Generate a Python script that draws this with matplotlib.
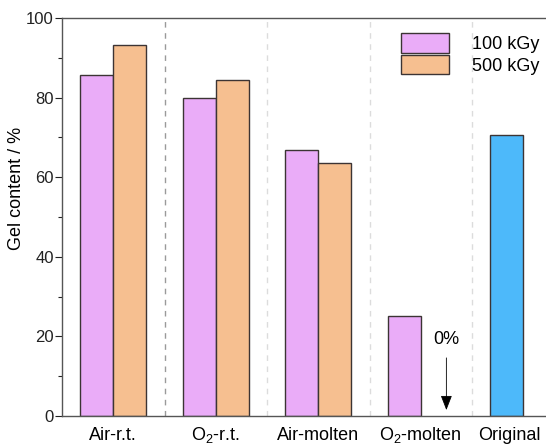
import matplotlib
matplotlib.use("Agg")
import matplotlib.pyplot as plt
from matplotlib.patches import Patch
import numpy as np

plt.rcParams['font.family'] = ['Liberation Sans', 'DejaVu Sans']
plt.rcParams['mathtext.fontset'] = 'custom'
plt.rcParams['mathtext.rm'] = 'Liberation Sans'

categories = ["Air-r.t.", "O$_2$-r.t.", "Air-molten", "O$_2$-molten", "Original"]
dose_labels = ["100 kGy", "500 kGy"]
gel_100 = [85.7, 79.9, 66.8, 25.1]
gel_500 = [93.2, 84.4, 63.6, 0.0]
original = 70.6

c_pink = "#EAACF8"
c_orange = "#F6BF90"
c_blue = "#4DB9FA"
edge = "#3c3434"

fig = plt.figure(figsize=(5.46, 4.45), dpi=100)
ax = fig.add_axes([62/546, 29/445, 512.5/546, 398/445])

w = 0.32
x = np.arange(4)
ax.bar(x - w/2, gel_100, width=w, color=c_pink, edgecolor=edge, linewidth=1.0, label=dose_labels[0])
ax.bar(x[:3] + w/2, gel_500[:3], width=w, color=c_orange, edgecolor=edge, linewidth=1.0, label=dose_labels[1])
ax.bar([4 - w/2], [original], width=w, color=c_blue, edgecolor=edge, linewidth=1.0)

# separators
for i, s in enumerate([0.5, 1.5, 2.5, 3.5]):
    ax.axvline(s, color="#9a9a9a" if i == 0 else "#dcdcdc", linestyle=(0, (4, 4)), linewidth=1.0, zorder=0)

ax.set_xlim(-0.5, 4.5)
ax.set_ylim(0, 100)
ax.set_yticks([0, 20, 40, 60, 80, 100])
ax.set_yticks([10, 30, 50, 70, 90], minor=True)
ax.tick_params(axis='y', which='major', length=5, width=0.8, labelsize=12, colors="#222222", pad=1)
ax.tick_params(axis='y', which='minor', length=3, width=0.8, colors="#222222")
xt = [0, 1, 2, 3, 4 - w/2 + 0.02]
ax.set_xticks(xt)
ax.set_xticklabels(categories, fontsize=13)
ax.tick_params(axis='x', length=0, pad=17.3)
for lbl in ax.get_xticklabels():
    lbl.set_va('baseline')
for s in ['left', 'top', 'bottom']:
    ax.spines[s].set_color("#555555")
    ax.spines[s].set_linewidth(1.0)
ax.spines['right'].set_visible(False)
ax.set_ylabel("Gel content / %", fontsize=13, labelpad=6)
ax.yaxis.set_label_coords(-0.072, 0.573)

# 0% arrow
ax.annotate("", xy=(3.25, 0.8), xytext=(3.25, 15.3),
            arrowprops=dict(arrowstyle="-|>,head_length=0.9,head_width=0.35", color="black", lw=0.6))
ax.text(3.25, 19.3, "0%", ha="center", va="center", fontsize=13)

handles = [Patch(facecolor=c_pink, edgecolor=edge, linewidth=1.0),
           Patch(facecolor=c_orange, edgecolor=edge, linewidth=1.0)]
fig.legend(handles, dose_labels, loc="upper left", bbox_to_anchor=(401/546, 1 - 33/445),
           frameon=False, fontsize=13, handlelength=2.65, handleheight=1.3,
           labelspacing=0.1, handletextpad=1.3, borderaxespad=0, borderpad=0)

fig.savefig("out.png", dpi=100)
